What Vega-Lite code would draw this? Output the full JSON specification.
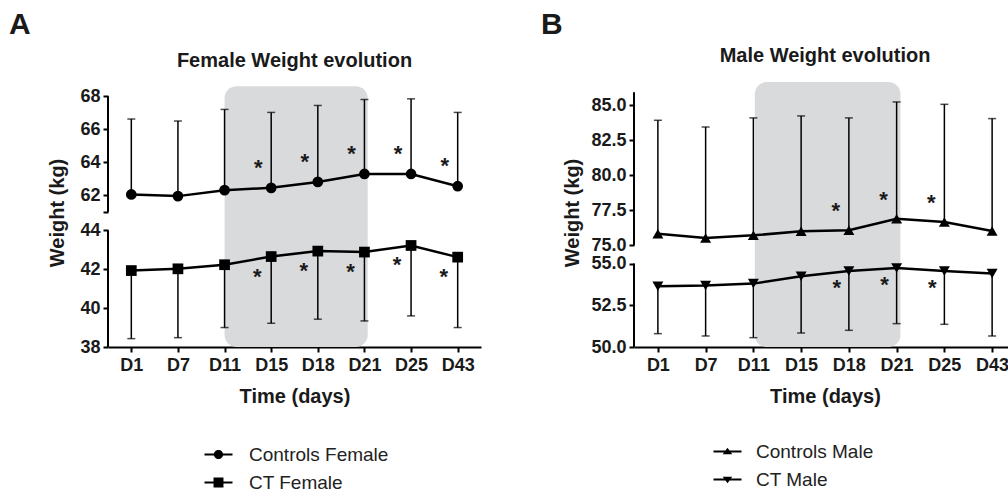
{
  "$schema": "https://vega.github.io/schema/vega-lite/v6.json",
  "background": "white",
  "padding": {"left": 8, "top": 10, "right": 0, "bottom": 0},
  "config": {
    "font": "Liberation Sans",
    "view": {"stroke": null},
    "title": {"color": "#1a1a1a", "font": "Liberation Sans", "fontWeight": "bold"},
    "axis": {
      "grid": false,
      "domainColor": "black", "domainWidth": 2,
      "tickColor": "black", "tickWidth": 2, "tickSize": 5,
      "labelFont": "Liberation Sans", "labelFontSize": 18, "labelFontWeight": "bold", "labelColor": "#1a1a1a",
      "labelOverlap": false,
      "titleFont": "Liberation Sans", "titleFontSize": 20, "titleFontWeight": "bold", "titleColor": "#1a1a1a"
    },
    "legend": {
      "padding": 0, "symbolSize": 196,
      "symbolFillColor": "black",
      "labelFont": "Liberation Sans", "labelFontSize": 19, "labelColor": "#222222",
      "labelOffset": 21, "rowPadding": 8, "direction": "vertical", "orient": "none"
    }
  },
  "resolve": {"scale": {"shape": "independent"}, "legend": {"shape": "independent"}},
  "datasets": {
    "fData": [
      {"group": "Controls Female", "i": 0, "day": "D1", "mean": 62.06, "cap": 66.62, "sig": false},
      {"group": "Controls Female", "i": 1, "day": "D7", "mean": 61.96, "cap": 66.5, "sig": false},
      {"group": "Controls Female", "i": 2, "day": "D11", "mean": 62.32, "cap": 67.2, "sig": false},
      {"group": "Controls Female", "i": 3, "day": "D15", "mean": 62.46, "cap": 67.02, "sig": true},
      {"group": "Controls Female", "i": 4, "day": "D18", "mean": 62.82, "cap": 67.44, "sig": true},
      {"group": "Controls Female", "i": 5, "day": "D21", "mean": 63.3, "cap": 67.8, "sig": true},
      {"group": "Controls Female", "i": 6, "day": "D25", "mean": 63.3, "cap": 67.84, "sig": true},
      {"group": "Controls Female", "i": 7, "day": "D43", "mean": 62.56, "cap": 67.02, "sig": true},
      {"group": "CT Female", "i": 0, "day": "D1", "mean": 41.93, "cap": 38.43, "sig": false},
      {"group": "CT Female", "i": 1, "day": "D7", "mean": 42.02, "cap": 38.48, "sig": false},
      {"group": "CT Female", "i": 2, "day": "D11", "mean": 42.23, "cap": 39.0, "sig": false},
      {"group": "CT Female", "i": 3, "day": "D15", "mean": 42.65, "cap": 39.22, "sig": true},
      {"group": "CT Female", "i": 4, "day": "D18", "mean": 42.93, "cap": 39.43, "sig": true},
      {"group": "CT Female", "i": 5, "day": "D21", "mean": 42.88, "cap": 39.34, "sig": true},
      {"group": "CT Female", "i": 6, "day": "D25", "mean": 43.22, "cap": 39.6, "sig": true},
      {"group": "CT Female", "i": 7, "day": "D43", "mean": 42.62, "cap": 39.0, "sig": true}
    ],
    "mData": [
      {"group": "Controls Male", "i": 0, "day": "D1", "mean": 75.83, "cap": 83.93, "sig": false},
      {"group": "Controls Male", "i": 1, "day": "D7", "mean": 75.52, "cap": 83.45, "sig": false},
      {"group": "Controls Male", "i": 2, "day": "D11", "mean": 75.71, "cap": 84.1, "sig": false},
      {"group": "Controls Male", "i": 3, "day": "D15", "mean": 76.0, "cap": 84.24, "sig": false},
      {"group": "Controls Male", "i": 4, "day": "D18", "mean": 76.07, "cap": 84.1, "sig": true},
      {"group": "Controls Male", "i": 5, "day": "D21", "mean": 76.9, "cap": 85.24, "sig": true},
      {"group": "Controls Male", "i": 6, "day": "D25", "mean": 76.67, "cap": 85.07, "sig": true},
      {"group": "Controls Male", "i": 7, "day": "D43", "mean": 76.02, "cap": 84.05, "sig": false},
      {"group": "CT Male", "i": 0, "day": "D1", "mean": 53.64, "cap": 50.8, "sig": false},
      {"group": "CT Male", "i": 1, "day": "D7", "mean": 53.68, "cap": 50.66, "sig": false},
      {"group": "CT Male", "i": 2, "day": "D11", "mean": 53.8, "cap": 50.56, "sig": false},
      {"group": "CT Male", "i": 3, "day": "D15", "mean": 54.24, "cap": 50.84, "sig": false},
      {"group": "CT Male", "i": 4, "day": "D18", "mean": 54.56, "cap": 51.0, "sig": true},
      {"group": "CT Male", "i": 5, "day": "D21", "mean": 54.74, "cap": 51.4, "sig": true},
      {"group": "CT Male", "i": 6, "day": "D25", "mean": 54.56, "cap": 51.36, "sig": true},
      {"group": "CT Male", "i": 7, "day": "D43", "mean": 54.4, "cap": 50.66, "sig": false}
    ],
    "fShade": [{"start": 2, "end": 5.07, "low": 38, "high": 68.6}],
    "mShade": [{"start": 2.03, "end": 5.08, "low": 50, "high": 86.66}],
    "fAxis": [{"from": 61, "to": 68}, {"from": 38, "to": 44}],
    "mAxis": [{"from": 75, "to": 85.93}, {"from": 50, "to": 55}]
  },
  "spacing": 59,
  "hconcat": [
    {
      "title": {"text": "A", "anchor": "start", "fontSize": 30, "dx": -39, "offset": 11},
      "vconcat": [
        {
          "width": 373,
          "height": 269,
          "title": {"text": "Female Weight evolution", "fontSize": 20, "offset": 7},
          "layer": [
            {
              "data": {"name": "fShade"},
              "mark": {"type": "rect", "color": "#d9dadc", "cornerRadius": 12},
              "encoding": {
                "x": {"field": "start", "type": "quantitative",
                  "scale": {"domain": [-0.5, 7.5], "nice": false, "zero": false},
                  "axis": {"values": [0, 1, 2, 3, 4, 5, 6, 7], "tickCount": 20,
                    "labelExpr": "['D1','D7','D11','D15','D18','D21','D25','D43'][datum.value]",
                    "title": "Time (days)", "labelPadding": 4, "titlePadding": 12, "labelFlush": false, "labelOverlap": false}},
                "x2": {"field": "end"},
                "y": {"field": "low", "type": "quantitative",
                  "scale": {"domain": [38, 44, 61, 69.1], "range": [269, 152.3, 134, 0], "nice": false, "zero": false},
                  "axis": {"values": [38, 40, 42, 44, 61, 62, 64, 66, 68], "tickCount": 20,
                    "labelExpr": "datum.value == 61 ? '' : datum.label", "labelOverlap": false,
                    "domain": false, "title": "Weight (kg)", "titlePadding": 12, "labelPadding": 3}},
                "y2": {"field": "high"}
              }
            },
            {
              "data": {"name": "fAxis"},
              "mark": {"type": "rule", "color": "black", "strokeWidth": 2},
              "encoding": {
                "x": {"datum": -0.5, "type": "quantitative"},
                "y": {"field": "from", "type": "quantitative"},
                "y2": {"field": "to"}
              }
            },
            {
              "data": {"name": "fData"},
              "layer": [
                {
                  "mark": {"type": "rule", "color": "black", "strokeWidth": 1.5},
                  "encoding": {
                    "x": {"field": "i", "type": "quantitative"},
                    "y": {"field": "mean", "type": "quantitative"},
                    "y2": {"field": "cap"}
                  }
                },
                {
                  "mark": {"type": "tick", "orient": "horizontal", "color": "black", "thickness": 1.5, "size": 8},
                  "encoding": {
                    "x": {"field": "i", "type": "quantitative"},
                    "y": {"field": "cap", "type": "quantitative"}
                  }
                },
                {
                  "mark": {"type": "line", "color": "black", "strokeWidth": 2.5},
                  "encoding": {
                    "x": {"field": "i", "type": "quantitative"},
                    "y": {"field": "mean", "type": "quantitative"},
                    "detail": {"field": "group", "type": "nominal"}
                  }
                },
                {
                  "transform": [{"filter": "datum.group == 'Controls Female'"}],
                  "mark": {"type": "point", "shape": "circle", "filled": true, "color": "black", "opacity": 1, "size": 115},
                  "encoding": {
                    "x": {"field": "i", "type": "quantitative"},
                    "y": {"field": "mean", "type": "quantitative"}
                  }
                },
                {
                  "transform": [{"filter": "datum.group == 'CT Female'"}],
                  "mark": {"type": "point", "shape": "square", "filled": true, "color": "black", "opacity": 1, "size": 115},
                  "encoding": {
                    "x": {"field": "i", "type": "quantitative"},
                    "y": {"field": "mean", "type": "quantitative"}
                  }
                },
                {
                  "transform": [{"filter": "false"}],
                  "mark": {"type": "point", "filled": true, "fill": "black", "opacity": 1},
                  "encoding": {
                    "x": {"field": "i", "type": "quantitative"},
                    "y": {"field": "mean", "type": "quantitative"},
                    "shape": {"field": "group", "type": "nominal",
                      "scale": {"domain": ["Controls Female", "CT Female"],
                        "range": ["M-2,-0.15H2V0.15H-2ZM-0.66,0A0.66,0.66,0,1,1,0.66,0A0.66,0.66,0,1,1,-0.66,0Z", "M-2,-0.15H2V0.15H-2ZM-0.71,-0.71H0.71V0.71H-0.71Z"]},
                      "legend": {"title": null, "legendX": 101, "legendY": 367}}
                  }
                },
                {
                  "transform": [{"filter": "datum.sig && datum.group == 'Controls Female'"}],
                  "mark": {"type": "text", "text": "*", "fontSize": 22, "fontWeight": "bold", "color": "#1a1a1a", "dx": -13, "dy": -20, "baseline": "middle"},
                  "encoding": {
                    "x": {"field": "i", "type": "quantitative"},
                    "y": {"field": "mean", "type": "quantitative"}
                  }
                },
                {
                  "transform": [{"filter": "datum.sig && datum.group == 'CT Female'"}],
                  "mark": {"type": "text", "text": "*", "fontSize": 22, "fontWeight": "bold", "color": "#1a1a1a", "dx": -14, "dy": 20, "baseline": "middle"},
                  "encoding": {
                    "x": {"field": "i", "type": "quantitative"},
                    "y": {"field": "mean", "type": "quantitative"}
                  }
                }
              ]
            }
          ]
        }
      ]
    },
    {
      "title": {"text": "B", "anchor": "start", "fontSize": 30, "dx": -22, "offset": 6},
      "vconcat": [
        {
          "width": 382,
          "height": 269,
          "title": {"text": "Male Weight evolution", "fontSize": 20, "offset": 12},
          "layer": [
            {
              "data": {"name": "mShade"},
              "mark": {"type": "rect", "color": "#d9dadc", "cornerRadius": 12},
              "encoding": {
                "x": {"field": "start", "type": "quantitative",
                  "scale": {"domain": [-0.5, 7.5], "nice": false, "zero": false},
                  "axis": {"values": [0, 1, 2, 3, 4, 5, 6, 7], "tickCount": 20,
                    "labelExpr": "['D1','D7','D11','D15','D18','D21','D25','D43'][datum.value]",
                    "title": "Time (days)", "labelPadding": 4, "titlePadding": 12, "labelFlush": false, "labelOverlap": false}},
                "x2": {"field": "end"},
                "y": {"field": "low", "type": "quantitative",
                  "scale": {"domain": [50, 55, 75, 86.95], "range": [269, 185.6, 167.3, 0], "nice": false, "zero": false},
                  "axis": {"values": [50, 52.5, 55, 75, 77.5, 80, 82.5, 85], "tickCount": 20, "format": ".1f", "labelOverlap": false,
                    "domain": false, "title": "Weight (kg)", "titlePadding": 8, "labelPadding": 3}},
                "y2": {"field": "high"}
              }
            },
            {
              "data": {"name": "mAxis"},
              "mark": {"type": "rule", "color": "black", "strokeWidth": 2},
              "encoding": {
                "x": {"datum": -0.5, "type": "quantitative"},
                "y": {"field": "from", "type": "quantitative"},
                "y2": {"field": "to"}
              }
            },
            {
              "data": {"name": "mData"},
              "layer": [
                {
                  "mark": {"type": "rule", "color": "black", "strokeWidth": 1.5},
                  "encoding": {
                    "x": {"field": "i", "type": "quantitative"},
                    "y": {"field": "mean", "type": "quantitative"},
                    "y2": {"field": "cap"}
                  }
                },
                {
                  "mark": {"type": "tick", "orient": "horizontal", "color": "black", "thickness": 1.5, "size": 8},
                  "encoding": {
                    "x": {"field": "i", "type": "quantitative"},
                    "y": {"field": "cap", "type": "quantitative"}
                  }
                },
                {
                  "mark": {"type": "line", "color": "black", "strokeWidth": 2.5},
                  "encoding": {
                    "x": {"field": "i", "type": "quantitative"},
                    "y": {"field": "mean", "type": "quantitative"},
                    "detail": {"field": "group", "type": "nominal"}
                  }
                },
                {
                  "transform": [{"filter": "datum.group == 'Controls Male'"}],
                  "mark": {"type": "point", "shape": "triangle-up", "filled": true, "color": "black", "opacity": 1, "size": 120},
                  "encoding": {
                    "x": {"field": "i", "type": "quantitative"},
                    "y": {"field": "mean", "type": "quantitative"}
                  }
                },
                {
                  "transform": [{"filter": "datum.group == 'CT Male'"}],
                  "mark": {"type": "point", "shape": "triangle-down", "filled": true, "color": "black", "opacity": 1, "size": 120},
                  "encoding": {
                    "x": {"field": "i", "type": "quantitative"},
                    "y": {"field": "mean", "type": "quantitative"}
                  }
                },
                {
                  "transform": [{"filter": "false"}],
                  "mark": {"type": "point", "filled": true, "fill": "black", "opacity": 1},
                  "encoding": {
                    "x": {"field": "i", "type": "quantitative"},
                    "y": {"field": "mean", "type": "quantitative"},
                    "shape": {"field": "group", "type": "nominal",
                      "scale": {"domain": ["Controls Male", "CT Male"],
                        "range": ["M-2,-0.15H2V0.15H-2ZM0,-0.55L0.68,0.4H-0.68Z", "M-2,-0.15H2V0.15H-2ZM0,0.55L-0.68,-0.4H0.68Z"]},
                      "legend": {"title": null, "legendX": 84, "legendY": 364, "labelOffset": 19}}
                  }
                },
                {
                  "transform": [{"filter": "datum.sig && datum.group == 'Controls Male'"}],
                  "mark": {"type": "text", "text": "*", "fontSize": 22, "fontWeight": "bold", "color": "#1a1a1a", "dx": -13, "dy": -19, "baseline": "middle"},
                  "encoding": {
                    "x": {"field": "i", "type": "quantitative"},
                    "y": {"field": "mean", "type": "quantitative"}
                  }
                },
                {
                  "transform": [{"filter": "datum.sig && datum.group == 'CT Male'"}],
                  "mark": {"type": "text", "text": "*", "fontSize": 22, "fontWeight": "bold", "color": "#1a1a1a", "dx": -12, "dy": 17, "baseline": "middle"},
                  "encoding": {
                    "x": {"field": "i", "type": "quantitative"},
                    "y": {"field": "mean", "type": "quantitative"}
                  }
                }
              ]
            }
          ]
        }
      ]
    }
  ]
}
